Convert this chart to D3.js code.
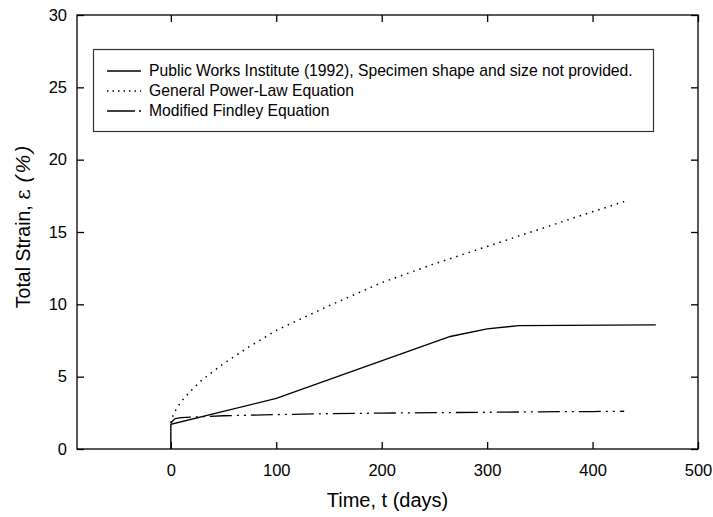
<!DOCTYPE html>
<html>
<head>
<meta charset="utf-8">
<script src="https://cdn.jsdelivr.net/npm/d3@7"></script>
<style>
  body { margin: 0; background: #fff; }
  svg { display: block; font-family: "Liberation Sans", Arial, sans-serif; }
</style>
</head>
<body>
<div id="chart"></div>
<script>
// values
const publicWorks = [
    { t: 0, e: 0 }, { t: 0, e: 1.7 }, { t: 100, e: 3.5 }, { t: 265, e: 7.78 },
    { t: 300, e: 8.3 }, { t: 330, e: 8.53 }, { t: 460, e: 8.58 }
];
const powerLaw = [
    { t: 0, e: 1.8 }, { t: 2, e: 2.3 }, { t: 5, e: 2.75 }, { t: 10, e: 3.3 },
    { t: 15, e: 3.7 }, { t: 20, e: 4.1 }, { t: 30, e: 4.8 }, { t: 50, e: 5.9 },
    { t: 75, e: 7.1 }, { t: 100, e: 8.2 }, { t: 150, e: 9.9 }, { t: 200, e: 11.5 },
    { t: 250, e: 12.8 }, { t: 300, e: 14.0 }, { t: 350, e: 15.2 }, { t: 400, e: 16.4 },
    { t: 430, e: 17.1 }
];
const findley = [
    { t: 0, e: 1.8 }, { t: 4, e: 2.1 }, { t: 10, e: 2.17 }, { t: 25, e: 2.22 },
    { t: 50, e: 2.3 }, { t: 100, e: 2.38 }, { t: 150, e: 2.44 }, { t: 200, e: 2.48 },
    { t: 250, e: 2.51 }, { t: 300, e: 2.54 }, { t: 350, e: 2.57 }, { t: 400, e: 2.59 },
    { t: 430, e: 2.61 }
];
const xTicks = [0, 100, 200, 300, 400, 500];
const yTicks = [0, 5, 10, 15, 20, 25, 30];
const legendLabels = [
    "Public Works Institute (1992), Specimen shape and size not provided.",
    "General Power-Law Equation",
    "Modified Findley Equation"
];

const width = 713, height = 517;
const margin = { top: 15, right: 15, bottom: 68, left: 77 };
const plotW = width - margin.left - margin.right;
const plotH = height - margin.top - margin.bottom;

const svg = d3.select("#chart")
    .append("svg")
    .attr("width", width)
    .attr("height", height);

const x = d3.scaleLinear().domain([-89, 500]).range([margin.left, margin.left + plotW]);
const y = d3.scaleLinear().domain([0, 30]).range([margin.top + plotH, margin.top]);

// frame
svg.append("rect")
    .attr("x", margin.left)
    .attr("y", margin.top)
    .attr("width", plotW)
    .attr("height", plotH)
    .attr("fill", "none")
    .attr("stroke", "#000")
    .attr("stroke-width", 1.3);

// axes, ticks inward
const axisBottom = d3.axisBottom(x).tickValues(xTicks).tickSize(-7).tickPadding(15);
const axisTop = d3.axisTop(x).tickValues(xTicks).tickSize(-7).tickFormat("");
const axisLeft = d3.axisLeft(y).tickValues(yTicks).tickSize(-7).tickPadding(10);
const axisRight = d3.axisRight(y).tickValues(yTicks).tickSize(-7).tickFormat("");

function styleAxis(g) {
    g.select(".domain").remove();
    g.selectAll(".tick line").attr("stroke", "#000").attr("stroke-width", 1.3);
    g.selectAll(".tick text")
        .attr("fill", "#000")
        .attr("font-size", "16.5px")
        .attr("font-family", "Liberation Sans, Arial, sans-serif");
}

svg.append("g").attr("transform", `translate(0,${margin.top + plotH})`).call(axisBottom).call(styleAxis);
svg.append("g").attr("transform", `translate(0,${margin.top})`).call(axisTop).call(styleAxis);
svg.append("g").attr("transform", `translate(${margin.left},0)`).call(axisLeft).call(styleAxis);
svg.append("g").attr("transform", `translate(${margin.left + plotW},0)`).call(axisRight).call(styleAxis);

// axis titles
svg.append("text")
    .attr("x", margin.left + plotW / 2)
    .attr("y", 507)
    .attr("text-anchor", "middle")
    .attr("font-size", "20px")
    .text("Time, t (days)");

// y title: ε in a serif face, (%) slanted, as in the figure
const yTitle = svg.append("text")
    .attr("transform", `translate(30,${margin.top + plotH / 2 - 6}) rotate(-90)`)
    .attr("text-anchor", "middle")
    .attr("font-size", "19.5px");
yTitle.append("tspan").text("Total Strain, ");
yTitle.append("tspan").attr("font-family", "DejaVu Serif, serif").attr("font-size", "20px").text("ε");
yTitle.append("tspan").attr("dx", 7).attr("font-style", "italic").attr("font-size", "21px").attr("letter-spacing", "2px").text("(%)");

const line = d3.line().x(d => x(d.t)).y(d => y(d.e));

const series = [
    { data: publicWorks, dash: null, width: 1.4 },
    { data: powerLaw, dash: "1.5,5", width: 1.5 },
    { data: findley, dash: "22,5,2,5,2,5", width: 1.3 }
];

series.forEach(s => {
    svg.append("path")
        .datum(s.data)
        .attr("d", line)
        .attr("fill", "none")
        .attr("stroke", "#000")
        .attr("stroke-width", s.width)
        .attr("stroke-dasharray", s.dash);
});

// legend
const legend = svg.append("g");
legend.append("rect")
    .attr("x", 93.5)
    .attr("y", 49.5)
    .attr("width", 560)
    .attr("height", 82)
    .attr("fill", "#fff")
    .attr("stroke", "#333")
    .attr("stroke-width", 1.2);

const legendDash = [null, "1.5,4", "28,4,2,4"];
legendLabels.forEach((label, i) => {
    const ly = 71 + i * 20;
    legend.append("line")
        .attr("x1", 107).attr("x2", 141)
        .attr("y1", ly).attr("y2", ly)
        .attr("stroke", "#000")
        .attr("stroke-width", i === 1 ? 1.5 : 1.3)
        .attr("stroke-dasharray", legendDash[i]);
    legend.append("text")
        .attr("x", 149)
        .attr("y", ly)
        .attr("dy", "0.35em")
        .attr("font-size", "15.7px")
        .text(label);
});
</script>
</body>
</html>
